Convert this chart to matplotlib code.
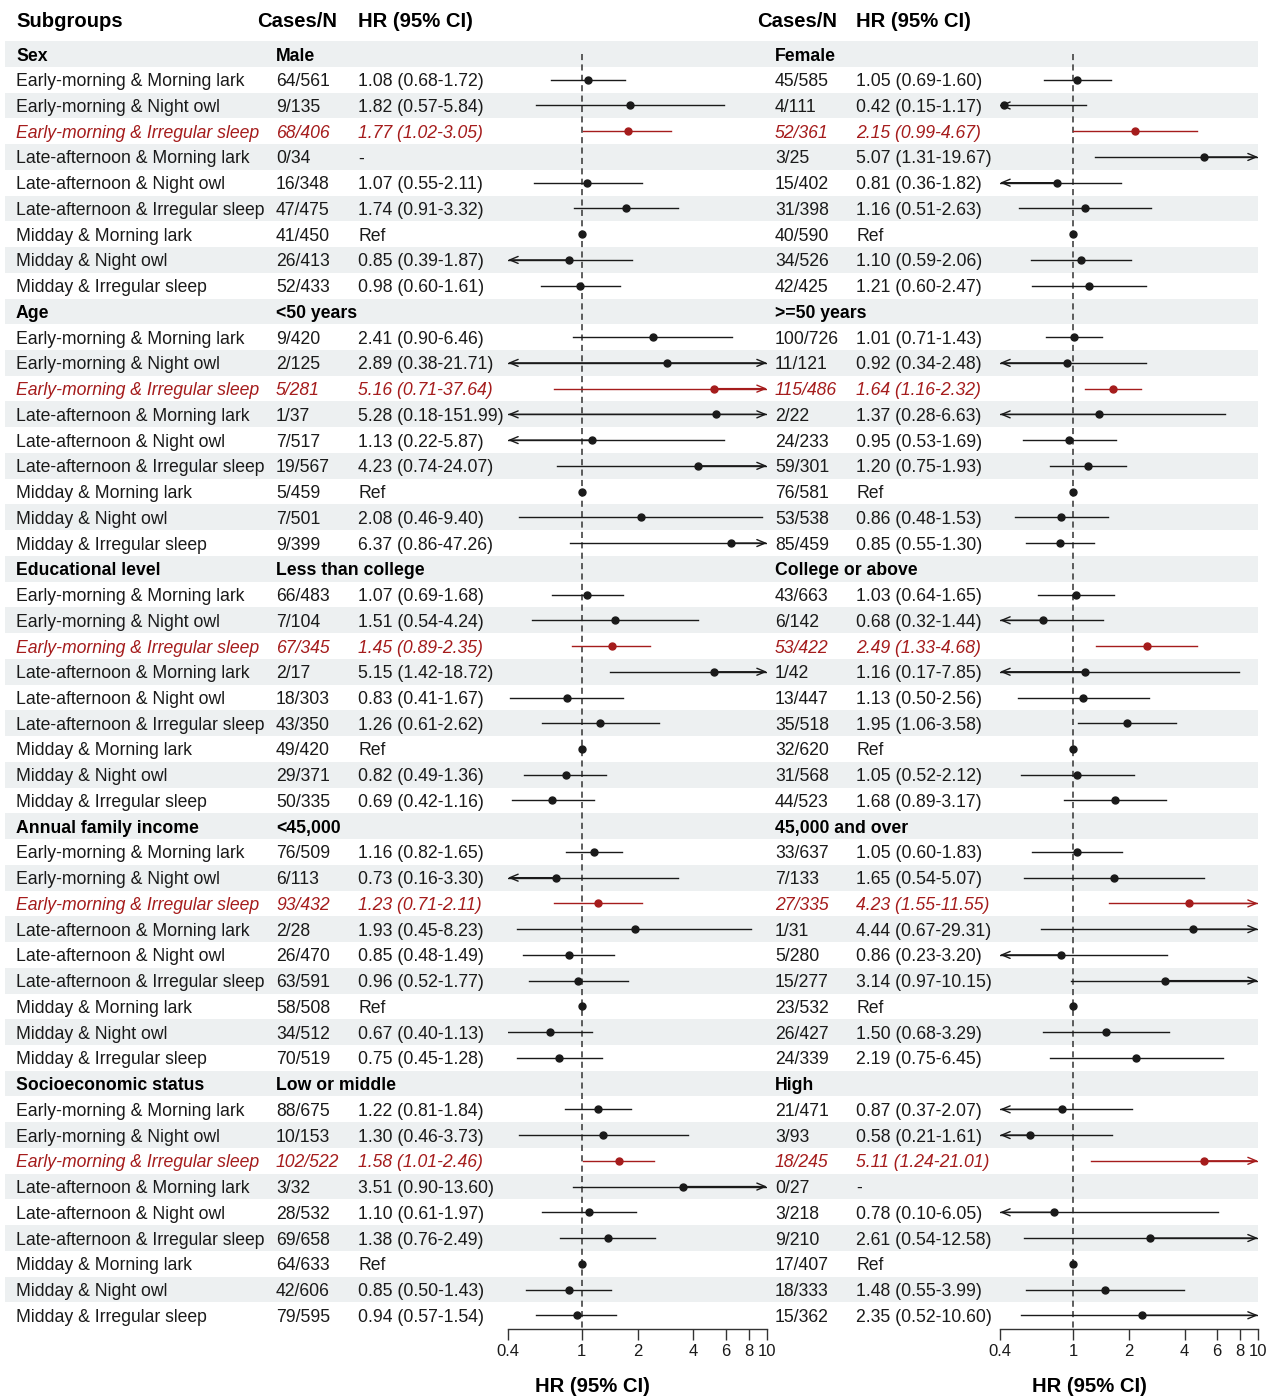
import numpy as np
import matplotlib
matplotlib.use("Agg")
import matplotlib.pyplot as plt

plt.rcParams['font.family'] = ['Liberation Sans', 'DejaVu Sans']

# ---- data ----
row_labels = ["Early-morning & Morning lark", "Early-morning & Night owl",
              "Early-morning & Irregular sleep", "Late-afternoon & Morning lark",
              "Late-afternoon & Night owl", "Late-afternoon & Irregular sleep",
              "Midday & Morning lark", "Midday & Night owl", "Midday & Irregular sleep"]
highlight_row = 2   # Early-morning & Irregular sleep
ref_row = 6         # Midday & Morning lark

groups = ["Sex", "Age", "Educational level", "Annual family income", "Socioeconomic status"]
left_sub = ["Male", "<50 years", "Less than college", "<45,000", "Low or middle"]
right_sub = ["Female", ">=50 years", "College or above", "45,000 and over", "High"]

# (cases/N, HR, lower, upper); None HR -> not estimable
male = [("64/561", 1.08, 0.68, 1.72), ("9/135", 1.82, 0.57, 5.84), ("68/406", 1.77, 1.02, 3.05),
        ("0/34", None, None, None), ("16/348", 1.07, 0.55, 2.11), ("47/475", 1.74, 0.91, 3.32),
        ("41/450", 1, 1, 1), ("26/413", 0.85, 0.39, 1.87), ("52/433", 0.98, 0.60, 1.61)]
female = [("45/585", 1.05, 0.69, 1.60), ("4/111", 0.42, 0.15, 1.17), ("52/361", 2.15, 0.99, 4.67),
          ("3/25", 5.07, 1.31, 19.67), ("15/402", 0.81, 0.36, 1.82), ("31/398", 1.16, 0.51, 2.63),
          ("40/590", 1, 1, 1), ("34/526", 1.10, 0.59, 2.06), ("42/425", 1.21, 0.60, 2.47)]
age_young = [("9/420", 2.41, 0.90, 6.46), ("2/125", 2.89, 0.38, 21.71), ("5/281", 5.16, 0.71, 37.64),
             ("1/37", 5.28, 0.18, 151.99), ("7/517", 1.13, 0.22, 5.87), ("19/567", 4.23, 0.74, 24.07),
             ("5/459", 1, 1, 1), ("7/501", 2.08, 0.46, 9.40), ("9/399", 6.37, 0.86, 47.26)]
age_old = [("100/726", 1.01, 0.71, 1.43), ("11/121", 0.92, 0.34, 2.48), ("115/486", 1.64, 1.16, 2.32),
           ("2/22", 1.37, 0.28, 6.63), ("24/233", 0.95, 0.53, 1.69), ("59/301", 1.20, 0.75, 1.93),
           ("76/581", 1, 1, 1), ("53/538", 0.86, 0.48, 1.53), ("85/459", 0.85, 0.55, 1.30)]
edu_low = [("66/483", 1.07, 0.69, 1.68), ("7/104", 1.51, 0.54, 4.24), ("67/345", 1.45, 0.89, 2.35),
           ("2/17", 5.15, 1.42, 18.72), ("18/303", 0.83, 0.41, 1.67), ("43/350", 1.26, 0.61, 2.62),
           ("49/420", 1, 1, 1), ("29/371", 0.82, 0.49, 1.36), ("50/335", 0.69, 0.42, 1.16)]
edu_high = [("43/663", 1.03, 0.64, 1.65), ("6/142", 0.68, 0.32, 1.44), ("53/422", 2.49, 1.33, 4.68),
            ("1/42", 1.16, 0.17, 7.85), ("13/447", 1.13, 0.50, 2.56), ("35/518", 1.95, 1.06, 3.58),
            ("32/620", 1, 1, 1), ("31/568", 1.05, 0.52, 2.12), ("44/523", 1.68, 0.89, 3.17)]
inc_low = [("76/509", 1.16, 0.82, 1.65), ("6/113", 0.73, 0.16, 3.30), ("93/432", 1.23, 0.71, 2.11),
           ("2/28", 1.93, 0.45, 8.23), ("26/470", 0.85, 0.48, 1.49), ("63/591", 0.96, 0.52, 1.77),
           ("58/508", 1, 1, 1), ("34/512", 0.67, 0.40, 1.13), ("70/519", 0.75, 0.45, 1.28)]
inc_high = [("33/637", 1.05, 0.60, 1.83), ("7/133", 1.65, 0.54, 5.07), ("27/335", 4.23, 1.55, 11.55),
            ("1/31", 4.44, 0.67, 29.31), ("5/280", 0.86, 0.23, 3.20), ("15/277", 3.14, 0.97, 10.15),
            ("23/532", 1, 1, 1), ("26/427", 1.50, 0.68, 3.29), ("24/339", 2.19, 0.75, 6.45)]
ses_low = [("88/675", 1.22, 0.81, 1.84), ("10/153", 1.30, 0.46, 3.73), ("102/522", 1.58, 1.01, 2.46),
           ("3/32", 3.51, 0.90, 13.60), ("28/532", 1.10, 0.61, 1.97), ("69/658", 1.38, 0.76, 2.49),
           ("64/633", 1, 1, 1), ("42/606", 0.85, 0.50, 1.43), ("79/595", 0.94, 0.57, 1.54)]
ses_high = [("21/471", 0.87, 0.37, 2.07), ("3/93", 0.58, 0.21, 1.61), ("18/245", 5.11, 1.24, 21.01),
            ("0/27", None, None, None), ("3/218", 0.78, 0.10, 6.05), ("9/210", 2.61, 0.54, 12.58),
            ("17/407", 1, 1, 1), ("18/333", 1.48, 0.55, 3.99), ("15/362", 2.35, 0.52, 10.60)]

left_data = [male, age_young, edu_low, inc_low, ses_low]
right_data = [female, age_old, edu_high, inc_high, ses_high]

xticks = [0.4, 1, 2, 4, 6, 8, 10]
xtick_labels = ["0.4", "1", "2", "4", "6", "8", "10"]

# ---- layout (pixels) ----
W, H = 1277, 1399
y0, rh = 54, 25.74           # first row centre and row height
n_rows = len(groups) * 10
red = '#A51C1C'
ink = '#1a1a1a'
band = '#EDF0F1'
fs = 12.7
fs_head = 14.6

fig = plt.figure(figsize=(W / 100, H / 100), dpi=100)
bg = fig.add_axes([0, 0, 1, 1])
bg.set_xlim(0, W)
bg.set_ylim((H - y0) / rh, -y0 / rh)
bg.axis('off')

for i in range(0, n_rows, 2):
    bg.axhspan(i - 0.5, i + 0.5, xmin=5 / W, xmax=1258 / W, color=band, lw=0, zorder=0)

hy = (19.5 - y0) / rh
bg.text(16, hy, "Subgroups", fontsize=fs_head, fontweight='bold', va='center_baseline')
for cx, hx in [(257, 358), (757, 856)]:
    bg.text(cx, hy, "Cases/N", fontsize=fs_head, fontweight='bold', va='center_baseline')
    bg.text(hx, hy, "HR (95% CI)", fontsize=fs_head, fontweight='bold', va='center_baseline')


def hr_text(hr, lo, hi, j):
    if j == ref_row:
        return "Ref"
    if hr is None:
        return "-"
    return f"{hr:.2f} ({lo:.2f}-{hi:.2f})"


for g, name in enumerate(groups):
    gy = g * 10
    bg.text(16, gy, name, fontsize=fs, fontweight='bold', va='center_baseline')
    bg.text(276, gy, left_sub[g], fontsize=fs, fontweight='bold', va='center_baseline')
    bg.text(775, gy, right_sub[g], fontsize=fs, fontweight='bold', va='center_baseline')
    for j, lab in enumerate(row_labels):
        y = gy + 1 + j
        hl = j == highlight_row
        kw = dict(fontsize=fs, va='center_baseline', color=red if hl else ink,
                  style='italic' if hl else 'normal')
        bg.text(16, y, lab, **kw)
        for (cx, hx), rows in [((276, 358), left_data[g]), ((775, 856), right_data[g])]:
            cases, hr, lo, hi = rows[j]
            bg.text(cx, y, cases, **kw)
            bg.text(hx, y, hr_text(hr, lo, hi, j), **kw)

# ---- forest panels ----
ax_bottom, ax_top = 1329, 40
panels = [(508, 767, left_data, 592), (1000, 1258, right_data, 1089)]
for x_left, x_right, data, lab_x in panels:
    ax = fig.add_axes([x_left / W, (H - ax_bottom) / H, (x_right - x_left) / W,
                       (ax_bottom - ax_top) / H])
    ax.set_zorder(2)
    ax.patch.set_visible(False)
    ax.set_xscale('log')
    xmin, xmax = 0.4, 10
    ax.set_xlim(xmin, xmax)
    ybot = (ax_bottom - y0) / rh
    ax.set_ylim(ybot, (ax_top - y0) / rh)
    ax.plot([1, 1], [0, ybot], color='#333333', lw=1.1, ls=(0, (4, 2.8)), zorder=1)

    for g, rows in enumerate(data):
        for j, (cases, hr, lo, hi) in enumerate(rows):
            if hr is None:
                continue
            y = g * 10 + 1 + j
            c = red if j == highlight_row else ink
            if j != ref_row:
                ax.plot([max(lo, xmin), min(hi, xmax)], [y, y], color=c, lw=1.0, zorder=2)
                ap = dict(arrowstyle='->,head_length=0.6,head_width=0.25', color=c, lw=1.0,
                          shrinkA=0, shrinkB=0)
                if lo < xmin:
                    ax.annotate('', xy=(xmin, y), xytext=(hr, y), arrowprops=ap,
                                annotation_clip=False)
                if hi > xmax:
                    ax.annotate('', xy=(xmax, y), xytext=(hr, y), arrowprops=ap,
                                annotation_clip=False)
            ax.plot(hr, y, 'o', color=c, ms=5, zorder=3, clip_on=False)

    ax.set_xticks(xticks)
    ax.set_xticklabels(xtick_labels, fontsize=12)
    ax.xaxis.set_minor_locator(matplotlib.ticker.NullLocator())
    ax.tick_params(axis='x', direction='out', length=8, width=1, color='#333333',
                   pad=3, labelcolor=ink)
    ax.set_yticks([])
    for s in ['left', 'right', 'top']:
        ax.spines[s].set_visible(False)
    ax.spines['bottom'].set_color('#333333')
    ax.spines['bottom'].set_linewidth(1)
    bg.text(lab_x, (1384 - y0) / rh, "HR (95% CI)", fontsize=fs_head, fontweight='bold',
            ha='center', va='center_baseline')

fig.savefig('out.png', dpi=100)
